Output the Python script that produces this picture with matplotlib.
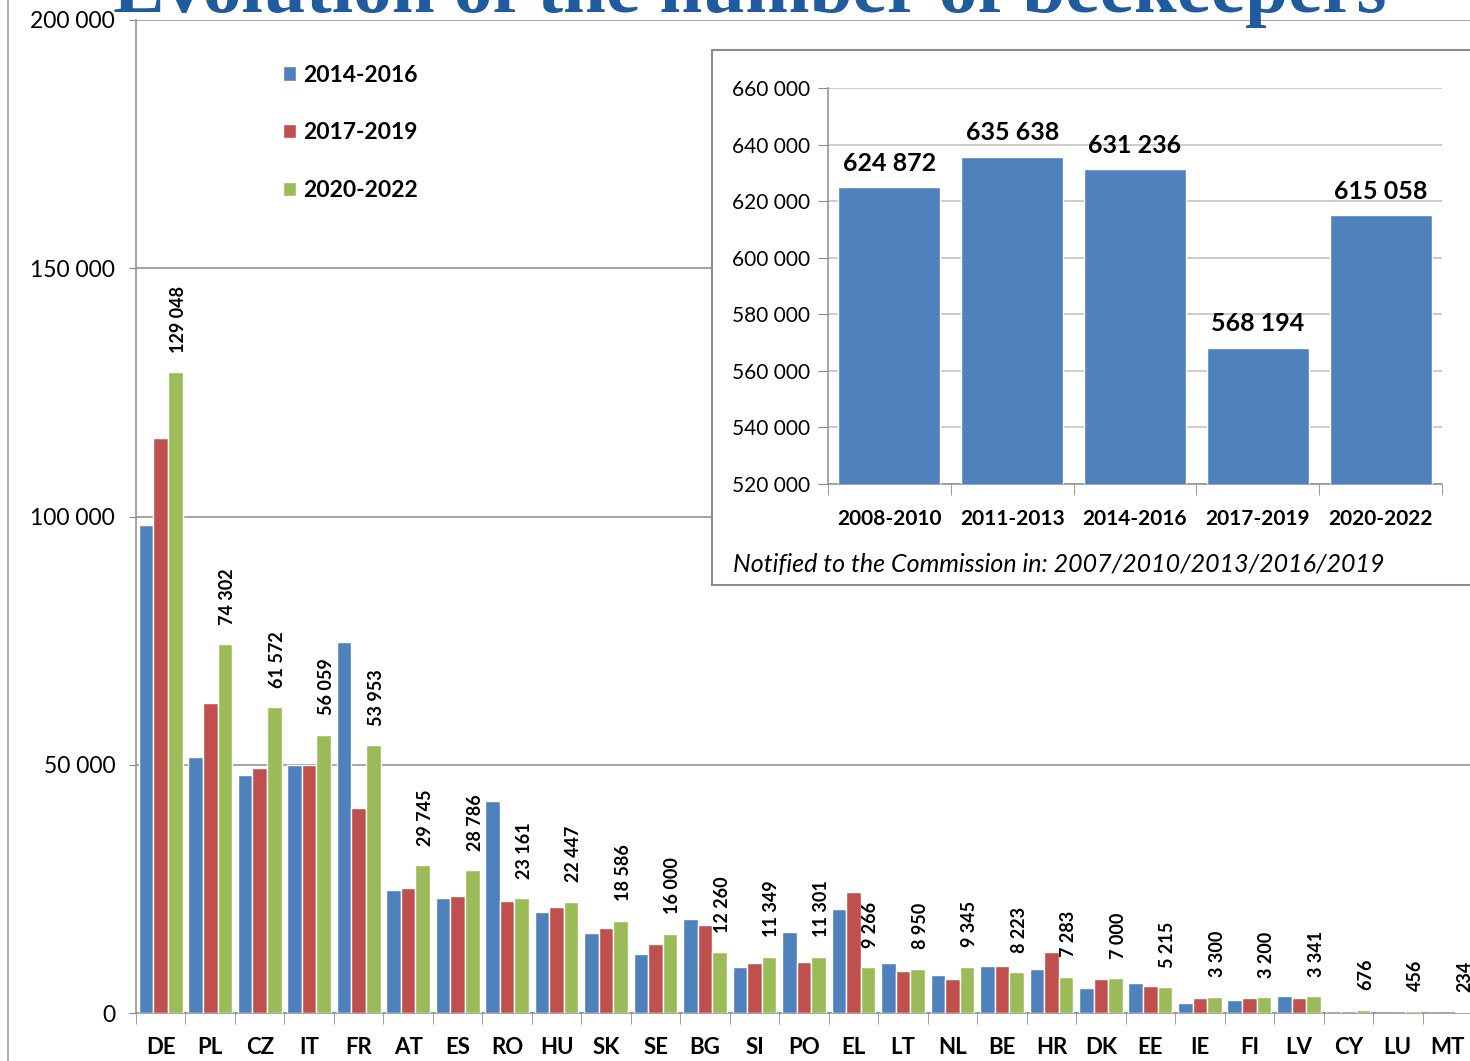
import matplotlib
matplotlib.use("Agg")
import matplotlib.pyplot as plt
from matplotlib.patches import Rectangle
from matplotlib.lines import Line2D
import numpy as np

plt.rcParams['font.family'] = ['Lato', 'DejaVu Sans']

countries = ["DE", "PL", "CZ", "IT", "FR", "AT", "ES", "RO", "HU", "SK", "SE", "BG", "SI", "PO",
             "EL", "LT", "NL", "BE", "HR", "DK", "EE", "IE", "FI", "LV", "CY", "LU", "MT"]
v_2014_2016 = [98200, 51600, 48000, 49900, 74700, 24700, 23200, 42750, 20300, 16050, 11950, 18900,
               9350, 16400, 20950, 10000, 7750, 9450, 8850, 5050, 6100, 2050, 2700, 3400, 400, 0, 0]
v_2017_2019 = [115900, 62500, 49300, 49900, 41300, 25100, 23500, 22500, 21300, 17050, 13900, 17700,
               10000, 10350, 24450, 8400, 6800, 9450, 12350, 6850, 5450, 3050, 3100, 3050, 400, 0, 0]
v_2020_2022 = [129048, 74302, 61572, 56059, 53953, 29745, 28786, 23161, 22447, 18586, 16000, 12260,
               11349, 11301, 9266, 8950, 9345, 8223, 7283, 7000, 5215, 3300, 3200, 3341, 676, 456, 234]
series_labels = ["2014-2016", "2017-2019", "2020-2022"]

periods = ["2008-2010", "2011-2013", "2014-2016", "2017-2019", "2020-2022"]
eu_totals = [624872, 635638, 631236, 568194, 615058]

BLUE = "#4F81BD"
RED = "#C0504D"
GREEN = "#9BBB59"
GRID = "#8C8C8C"

W, H = 1470, 1061
fig = plt.figure(figsize=(W / 100, H / 100), dpi=100)

def fx(px):
    return px / W

def fy(py):
    return 1 - py / H

# main axes
ax = fig.add_axes([fx(136), fy(1013), fx(1472 - 136), (1013 - 20) / H])
x = np.arange(len(countries))
bw = 0.295
for off, vals, col, lab in zip([-bw, 0, bw], [v_2014_2016, v_2017_2019, v_2020_2022],
                               [BLUE, RED, GREEN], series_labels):
    ax.bar(x + off, vals, width=bw, color=col, edgecolor="white", linewidth=1.0, label=lab, zorder=3)

for xi, v in zip(x, v_2020_2022):
    ax.annotate(f"{v:,}".replace(",", " "), xy=(xi + bw, v), xytext=(2, 14), textcoords="offset points",
                rotation=90, ha="center", va="bottom", fontsize=13, fontweight="bold", color="black")

ax.set_xlim(-0.5, len(countries) - 0.5)
ax.set_ylim(0, 200000)
ax.set_yticks([0, 50000, 100000, 150000, 200000])
ax.set_yticklabels(["0", "50 000", "100 000", "150 000", "200 000"], fontsize=16.5)
ax.set_xticks(x)
ax.set_xticklabels(countries, fontsize=16, fontweight="bold")
ax.set_xticks(np.arange(-0.5, len(countries), 1), minor=True)
ax.tick_params(axis="x", which="major", length=0, pad=17)
ax.tick_params(axis="x", which="minor", length=8, color=GRID, direction="out")
ax.tick_params(axis="y", length=5, color=GRID, pad=10)
ax.grid(axis="y", color=GRID, linewidth=1.1, zorder=0)
for s in ["top", "right"]:
    ax.spines[s].set_visible(False)
for s in ["left", "bottom"]:
    ax.spines[s].set_color(GRID)
    ax.spines[s].set_linewidth(1.1)

leg = ax.legend(loc="upper left", bbox_to_anchor=(fx(262), fy(44)), bbox_transform=fig.transFigure,
                frameon=False, labelspacing=1.6, handlelength=0.6, handleheight=0.6,
                handletextpad=0.3, prop={"weight": "bold", "size": 16.5})

# page frame line on left
fig.add_artist(Line2D([fx(8), fx(8)], [0, 1], color="#A0A0A0", linewidth=1.2))

# title (clipped at top)
fig.text(fx(113), fy(12), "Evolution of the number of beekeepers", fontsize=55.5,
         fontweight="bold", family="Liberation Serif", color="#1F5B9E", ha="left", va="baseline")

# inset box
box = Rectangle((fx(712), fy(585)), fx(1480 - 712), (585 - 50) / H, transform=fig.transFigure,
                facecolor="white", edgecolor="#8C8C8C", linewidth=1.5, zorder=2)
fig.add_artist(box)

ins = fig.add_axes([fx(828), fy(484), fx(1442 - 828), (484 - 88) / H])
ins.set_zorder(3)
ins.patch.set_alpha(0)
xi2 = np.arange(len(periods))
ins.bar(xi2, eu_totals, width=0.83, color=BLUE, edgecolor="white", linewidth=1.0, zorder=3)
for xv, v in zip(xi2, eu_totals):
    ins.annotate(f"{v:,}".replace(",", " "), xy=(xv, v), xytext=(0, 9), textcoords="offset points",
                 ha="center", va="bottom", fontsize=18, fontweight="bold")
ins.set_ylim(520000, 660000)
ins.set_xlim(-0.5, len(periods) - 0.5)
ins.set_yticks(np.arange(520000, 660001, 20000))
ins.set_yticklabels([f"{t:,}".replace(",", " ") for t in range(520000, 660001, 20000)], fontsize=15)
ins.set_xticks(xi2)
ins.set_xticklabels(periods, fontsize=15, fontweight="bold")
ins.set_xticks(np.arange(-0.5, len(periods), 1), minor=True)
ins.tick_params(axis="x", which="major", length=0, pad=18)
ins.tick_params(axis="x", which="minor", length=8, color=GRID)
ins.tick_params(axis="y", length=7, color=GRID, pad=6)
ins.grid(axis="y", color="#BFBFBF", linewidth=1.1, zorder=0)
for s in ["top", "right"]:
    ins.spines[s].set_visible(False)
for s in ["left", "bottom"]:
    ins.spines[s].set_color(GRID)
    ins.spines[s].set_linewidth(1.1)

fig.text(fx(733), fy(572), "Notified to the Commission in: 2007/2010/2013/2016/2019", fontsize=18,
         style="italic", ha="left", va="baseline", zorder=4)

fig.savefig("out.png", dpi=100)
